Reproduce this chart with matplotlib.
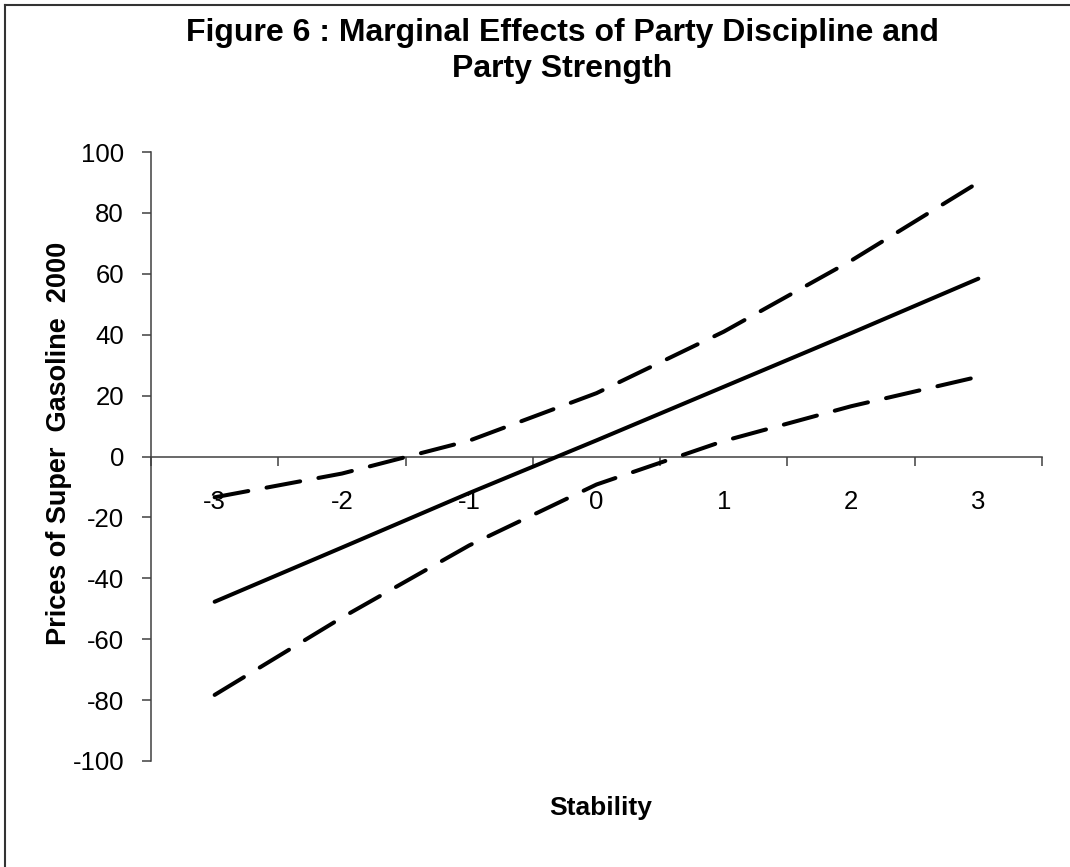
import matplotlib
matplotlib.use("Agg")
import matplotlib.pyplot as plt
from matplotlib.lines import Line2D

# ---- data ----
stability = [-3, -2, -1, 0, 1, 2, 3]
effect = [-47.7, -29.9, -12.0, 5.3, 22.9, 40.5, 58.4]
upper = [-13.4, -5.6, 5.2, 20.8, 41.0, 64.3, 90.0]
lower = [-78.3, -52.9, -29.2, -9.2, 5.1, 16.5, 26.2]
x_tick_labels = ["-3", "-2", "-1", "0", "1", "2", "3"]
y_ticks = [-100, -80, -60, -40, -20, 0, 20, 40, 60, 80, 100]

title_line1 = "Figure 6 : Marginal Effects of Party Discipline and"
title_line2 = "Party Strength"
x_label = "Stability"
y_label = "Prices of Super  Gasoline  2000"

plt.rcParams['font.family'] = ['Liberation Sans', 'DejaVu Sans']

W, H = 1070, 867
DPI = 100
fig = plt.figure(figsize=(W / DPI, H / DPI), dpi=DPI)
fig.patch.set_facecolor('white')

def px(x, y):
    return x / W, 1 - y / H

left, right, top, bottom = 151, 1042, 152, 761
ax = fig.add_axes([left / W, 1 - bottom / H, (right - left) / W, (bottom - top) / H])

lw = 2.9
ax.plot(stability, effect, color='black', lw=lw, solid_capstyle='round', zorder=3)
for series in (upper, lower):
    ax.plot(stability, series, color='black', lw=lw, dashes=(8.5, 4.6),
            dash_capstyle='round', zorder=3)

ax.set_xlim(-3.5, 3.5)
ax.set_ylim(-100, 100)

axis_color = '#404040'
for s in ('top', 'right'):
    ax.spines[s].set_visible(False)
ax.spines['bottom'].set_position(('data', 0))
ax.spines['bottom'].set_color(axis_color)
ax.spines['left'].set_color(axis_color)
ax.spines['bottom'].set_linewidth(1.1)
ax.spines['left'].set_linewidth(1.1)

# major x ticks at category boundaries, labels on minor ticks at centers
ax.set_xticks([i - 0.5 for i in range(-3, 5)])
ax.set_xticklabels([])
ax.set_xticks(stability, minor=True)
ax.set_xticklabels(x_tick_labels, minor=True)
ax.tick_params(axis='x', which='major', direction='out', length=6.7, width=1.1,
               color=axis_color)
ax.tick_params(axis='x', which='minor', length=0, pad=24.0, labelsize=18.5,
               labelcolor='black')

ax.set_yticks(y_ticks)
ax.set_yticklabels([str(v) for v in y_ticks])
ax.tick_params(axis='y', direction='out', length=6.7, width=1.1, color=axis_color,
               pad=12.7, labelsize=18.5, labelcolor='black')

# titles and labels
fig.text(*px(562, 41), title_line1, ha='center', va='baseline',
         fontsize=23, fontweight='bold')
fig.text(*px(562, 77), title_line2, ha='center', va='baseline',
         fontsize=23, fontweight='bold')
fig.text(*px(600.8, 815), x_label, ha='center', va='baseline',
         fontsize=19, fontweight='bold')
fig.text(*px(59.5, 443.5), y_label, ha='center', va='center', rotation=90,
         fontsize=19.5, fontweight='bold')

# chart-area border (left and top visible)
border_color = '#333333'
fig.add_artist(Line2D([4.5 / W, 4.5 / W], [0, 1 - 5 / H], transform=fig.transFigure,
                      color=border_color, lw=1.5))
fig.add_artist(Line2D([4.5 / W, 1], [1 - 5 / H, 1 - 5 / H], transform=fig.transFigure,
                      color=border_color, lw=1.5))

fig.savefig('out.png', dpi=DPI, facecolor='white')
